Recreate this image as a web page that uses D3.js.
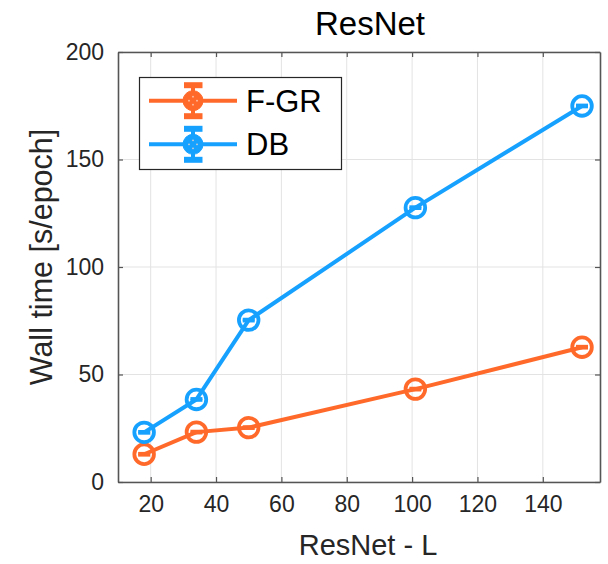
<!DOCTYPE html>
<html>
<head>
<meta charset="utf-8">
<script src="https://cdn.jsdelivr.net/npm/d3@7"></script>
<style>
  html, body { margin: 0; padding: 0; background: #fff; }
  svg { display: block; font-family: "Liberation Sans", Arial, sans-serif; }
</style>
</head>
<body>
<svg id="chart" width="608" height="564"></svg>
<script>
// ---- data ----
const depths = [18, 34, 50, 101, 152];
const fgrTime = [12.9, 23.2, 25.3, 43.2, 62.7];
const fgrErr = [0.4, 0.4, 0.4, 0.4, 0.4];
const dbTime = [23.1, 38.4, 75.3, 127.6, 174.9];
const dbErr = [0.4, 0.4, 0.4, 0.4, 0.4];
const seriesNames = ["F-GR", "DB"];
const xTicks = [20, 40, 60, 80, 100, 120, 140];
const yTicks = [0, 50, 100, 150, 200];
const titleText = "ResNet";
const xLabelText = "ResNet - L";
const yLabelText = "Wall time [s/epoch]";

const colors = ["#ff6a2b", "#17a1ff"];
const series = [
  { name: seriesNames[0], y: fgrTime, e: fgrErr, color: colors[0] },
  { name: seriesNames[1], y: dbTime, e: dbErr, color: colors[1] }
];

const svg = d3.select("#chart");
const L = 118, R = 600, T = 52, B = 482;

const x = d3.scaleLinear().domain([10, 157.5]).range([L, R]);
const y = d3.scaleLinear().domain([0, 200]).range([B, T]);

// grid
const grid = svg.append("g");
grid.selectAll("line.gx").data(xTicks).enter().append("line")
  .attr("x1", d => x(d)).attr("x2", d => x(d)).attr("y1", T).attr("y2", B)
  .attr("stroke", "#e3e3e3").attr("stroke-width", 1);
grid.selectAll("line.gy").data(yTicks).enter().append("line")
  .attr("y1", d => y(d)).attr("y2", d => y(d)).attr("x1", L).attr("x2", R)
  .attr("stroke", "#e3e3e3").attr("stroke-width", 1);

// axes (ticks inward)
const axisColor = "#555";
const tickFont = 23;
const xAxis = svg.append("g").attr("transform", `translate(0,${B})`)
  .call(d3.axisBottom(x).tickValues(xTicks).tickSizeInner(-5).tickSizeOuter(0).tickPadding(14));
const yAxis = svg.append("g").attr("transform", `translate(${L},0)`)
  .call(d3.axisLeft(y).tickValues(yTicks).tickSizeInner(-5).tickSizeOuter(0).tickPadding(14));
const xTop = svg.append("g").attr("transform", `translate(0,${T})`)
  .call(d3.axisTop(x).tickValues(xTicks).tickSizeInner(-5).tickSizeOuter(0).tickFormat(""));
const yRight = svg.append("g").attr("transform", `translate(${R},0)`)
  .call(d3.axisRight(y).tickValues(yTicks).tickSizeInner(-5).tickSizeOuter(0).tickFormat(""));
[xAxis, yAxis, xTop, yRight].forEach(g => {
  g.select(".domain").attr("stroke", axisColor).attr("stroke-width", 1.6);
  g.selectAll(".tick line").attr("stroke", axisColor).attr("stroke-width", 1.2);
  g.selectAll(".tick text").attr("fill", "#262626").attr("font-size", tickFont)
    .attr("font-family", "'Liberation Sans', Arial, sans-serif");
});
xAxis.selectAll(".tick text").attr("dy", "0.71em");

// series
const line = d3.line().x(d => x(d[0])).y(d => y(d[1]));
series.forEach(s => {
  const pts = depths.map((d, i) => [d, s.y[i], s.e[i]]);
  const g = svg.append("g");
  g.append("path").datum(pts).attr("d", line)
    .attr("fill", "none").attr("stroke", s.color).attr("stroke-width", 4)
    .attr("stroke-linejoin", "round");
  // error bars
  const capW = 6;
  pts.forEach(p => {
    const cx = x(p[0]), y1 = y(p[1] - p[2]), y2 = y(p[1] + p[2]);
    g.append("line").attr("x1", cx).attr("x2", cx).attr("y1", y1).attr("y2", y2)
      .attr("stroke", s.color).attr("stroke-width", 3);
    [y1, y2].forEach(yy => g.append("line")
      .attr("x1", cx - capW).attr("x2", cx + capW).attr("y1", yy).attr("y2", yy)
      .attr("stroke", s.color).attr("stroke-width", 3));
  });
  g.selectAll("circle").data(pts).enter().append("circle")
    .attr("cx", d => x(d[0])).attr("cy", d => y(d[1])).attr("r", 9.8)
    .attr("fill", "none").attr("stroke", s.color).attr("stroke-width", 3.8);
});

// title and labels
svg.append("text").attr("x", 370).attr("y", 35).attr("text-anchor", "middle")
  .attr("font-size", 33).attr("fill", "#000").text(titleText);
svg.append("text").attr("x", 368).attr("y", 555).attr("text-anchor", "middle")
  .attr("font-size", 29).attr("fill", "#262626").text(xLabelText);
svg.append("text").attr("transform", "translate(52,257) rotate(-90)")
  .attr("text-anchor", "middle").attr("font-size", 30.5).attr("fill", "#262626").text(yLabelText);

// legend
const lg = svg.append("g");
lg.append("rect").attr("x", 139.5).attr("y", 77.5).attr("width", 202).attr("height", 92)
  .attr("fill", "#fff").attr("stroke", "#262626").attr("stroke-width", 1.2);
const rowsY = [100.7, 144.3];
series.forEach((s, i) => {
  const cy = rowsY[i];
  lg.append("line").attr("x1", 149).attr("x2", 237).attr("y1", cy).attr("y2", cy)
    .attr("stroke", s.color).attr("stroke-width", 4);
  lg.append("line").attr("x1", 193).attr("x2", 193).attr("y1", cy - 16).attr("y2", cy + 16)
    .attr("stroke", s.color).attr("stroke-width", 4);
  [cy - 15.5, cy + 15.5].forEach(yy => lg.append("line")
    .attr("x1", 184).attr("x2", 202.5).attr("y1", yy).attr("y2", yy)
    .attr("stroke", s.color).attr("stroke-width", 6));
  lg.append("circle").attr("cx", 193).attr("cy", cy).attr("r", 10)
    .attr("fill", s.color).attr("stroke", s.color).attr("stroke-width", 1);
  [[0, -4], [0, 4], [-4, 0], [4, 0]].forEach(o => lg.append("circle")
    .attr("cx", 193 + o[0]).attr("cy", cy + o[1]).attr("r", 0.9).attr("fill", "#ffd9c8")
    .attr("opacity", 0.8));
  lg.append("text").attr("x", 246).attr("y", cy + 11).attr("font-size", 31)
    .attr("fill", "#000").text(s.name);
});
</script>
</body>
</html>
